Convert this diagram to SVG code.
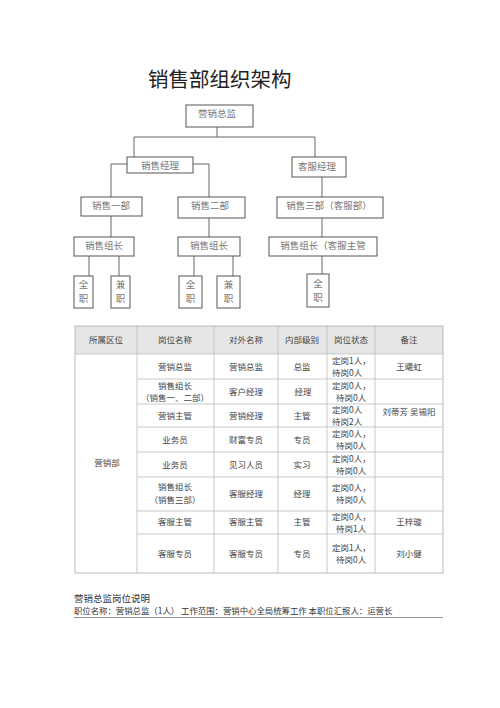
<svg xmlns="http://www.w3.org/2000/svg" width="500" height="708" viewBox="0 0 500 708">
<style>
.bg{fill:#fff}
.box{fill:#fff;stroke:#555;stroke-width:1}
.lbl{font-family:"Noto Sans CJK SC","Noto Sans",sans-serif;font-size:9.5px;fill:#777;text-anchor:middle}
.con{fill:none;stroke:#666;stroke-width:1}
.title{font-family:"Noto Sans CJK SC","Noto Sans",sans-serif;font-size:20.5px;fill:#222}
.grid{stroke:#bbb;stroke-width:0.8;fill:none}
.hdr{fill:#e6e6e6}
.t{font-family:"Noto Sans CJK SC","Noto Sans",sans-serif;font-size:8.5px;fill:#444;text-anchor:middle}
.tl{font-family:"Noto Sans CJK SC","Noto Sans",sans-serif;font-size:8.5px;fill:#444}
.foot{font-family:"Noto Sans CJK SC","Noto Sans",sans-serif;fill:#333}
</style>
<rect class="bg" x="0" y="0" width="500" height="708"/>
<text class="title" x="148" y="87">销售部组织架构</text>

<g id="connectors">
<path class="con" d="M217,127 V137 M134,137 H315 M134,137 V157 M315,137 V157"/>
<path class="con" d="M127,164 H111 V197 M193,164 H209 V197 M322,177 V197"/>
<path class="con" d="M111,216 V237 M209,218 V237 M322,218 V237"/>
<path class="con" d="M89,256 V276 M119,256 V276 M194,256 V276 M233,256 V276 M322,256 V274"/>
</g>

<g id="n-zongjian"><rect class="box" x="186" y="105" width="67" height="22"/><text class="lbl" x="217" y="117">营销总监</text></g>
<g id="n-xsjl"><rect class="box" x="127" y="157" width="66" height="16"/><text class="lbl" x="160" y="168.5">销售经理</text></g>
<g id="n-kfjl"><rect class="box" x="292" y="157" width="54" height="20"/><text class="lbl" x="317" y="169.5">客服经理</text></g>
<g id="n-b1"><rect class="box" x="81" y="197" width="61" height="19"/><text class="lbl" x="111" y="209">销售一部</text></g>
<g id="n-b2"><rect class="box" x="178" y="197" width="67" height="21"/><text class="lbl" x="210" y="209">销售二部</text></g>
<g id="n-b3"><rect class="box" x="277" y="197" width="106" height="21"/><text class="lbl" x="329" y="209">销售三部（客服部）</text></g>
<g id="n-zz1"><rect class="box" x="74" y="237" width="60" height="19"/><text class="lbl" x="104" y="249">销售组长</text></g>
<g id="n-zz2"><rect class="box" x="178" y="237" width="62" height="19"/><text class="lbl" x="209" y="249">销售组长</text></g>
<g id="n-zz3"><rect class="box" x="269" y="237" width="108" height="19"/><text class="lbl" x="323" y="249">销售组长（客服主管</text></g>
<g id="n-qz1"><rect class="box" x="74" y="276" width="19" height="32"/><text class="lbl" x="83.5" y="288">全</text><text class="lbl" x="83.5" y="302">职</text></g>
<g id="n-jz1"><rect class="box" x="111" y="276" width="19" height="32"/><text class="lbl" x="120.5" y="288">兼</text><text class="lbl" x="120.5" y="302">职</text></g>
<g id="n-qz2"><rect class="box" x="179" y="276" width="23" height="32"/><text class="lbl" x="190.5" y="288">全</text><text class="lbl" x="190.5" y="302">职</text></g>
<g id="n-jz2"><rect class="box" x="217" y="276" width="23" height="32"/><text class="lbl" x="228.5" y="288">兼</text><text class="lbl" x="228.5" y="302">职</text></g>
<g id="n-qz3"><rect class="box" x="307" y="274" width="22" height="33"/><text class="lbl" x="318" y="287">全</text><text class="lbl" x="318" y="301">职</text></g>

<g id="table">
<rect class="hdr" x="75" y="326" width="368" height="28"/>
<rect class="grid" x="75" y="326" width="368" height="247" style="stroke:#aaa"/>
<path class="grid" d="M75,354 H443 M137,326 V573 M214,326 V573 M278,326 V573 M327,326 V573 M375,326 V573 M137,379 H443 M137,404 H443 M137,427 H443 M137,452 H443 M137,477 H443 M137,511 H443 M137,534 H443"/>
<g>
<text class="t" x="106" y="343">所属区位</text>
<text class="t" x="175" y="343">岗位名称</text>
<text class="t" x="246" y="343">对外名称</text>
<text class="t" x="302" y="343">内部级别</text>
<text class="t" x="351" y="343">岗位状态</text>
<text class="t" x="409" y="343">备注</text>
</g>
<text class="t" x="107" y="466">营销部</text>
<g>
<text class="t" x="175" y="370">营销总监</text><text class="t" x="246" y="370">营销总监</text><text class="t" x="302" y="370">总监</text>
<text class="tl" x="332" y="364">定岗1人，</text><text class="tl" x="332" y="376">待岗0人</text><text class="t" x="409" y="370">王曦虹</text>
</g>
<g>
<text class="t" x="175" y="389">销售组长</text><text class="t" x="175" y="401">（销售一、二部）</text>
<text class="t" x="246" y="395">客户经理</text><text class="t" x="303" y="395">经理</text>
<text class="tl" x="332" y="389">定岗0人，</text><text class="tl" x="336" y="401">待岗0人</text>
</g>
<g>
<text class="t" x="175" y="419">营销主管</text><text class="t" x="246" y="419">营销经理</text><text class="t" x="302" y="419">主管</text>
<text class="tl" x="332" y="413">定岗0人</text><text class="tl" x="332" y="425">待岗2人</text><text class="t" x="409" y="415">刘蒂芳  吴锡阳</text>
</g>
<g>
<text class="t" x="175" y="443">业务员</text><text class="t" x="246" y="443">财富专员</text><text class="t" x="302" y="443">专员</text>
<text class="tl" x="332" y="437">定岗0人，</text><text class="tl" x="336" y="449">待岗0人</text>
</g>
<g>
<text class="t" x="175" y="468">业务员</text><text class="t" x="246" y="468">见习人员</text><text class="t" x="302" y="468">实习</text>
<text class="tl" x="332" y="462">定岗0人，</text><text class="tl" x="336" y="474">待岗0人</text>
</g>
<g>
<text class="t" x="175" y="490">销售组长</text><text class="t" x="175" y="503">（销售三部）</text>
<text class="t" x="246" y="497">客服经理</text><text class="t" x="302" y="497">经理</text>
<text class="tl" x="332" y="491">定岗0人，</text><text class="tl" x="336" y="503">待岗0人</text>
</g>
<g>
<text class="t" x="175" y="525">客服主管</text><text class="t" x="246" y="525">客服主管</text><text class="t" x="302" y="525">主管</text>
<text class="tl" x="332" y="520">定岗0人，</text><text class="tl" x="336" y="532">待岗1人</text><text class="t" x="409" y="525">王梓璇</text>
</g>
<g>
<text class="t" x="175" y="557">客服专员</text><text class="t" x="246" y="557">客服专员</text><text class="t" x="302" y="557">专员</text>
<text class="tl" x="332" y="551">定岗1人，</text><text class="tl" x="336" y="563">待岗0人</text><text class="t" x="409" y="557">刘小健</text>
</g>
</g>

<text class="foot" x="74" y="602" font-size="9.5">营销总监岗位说明</text>
<text class="foot" x="74" y="614" font-size="8.4">职位名称：营销总监（1人） 工作范围：营销中心全局统筹工作 本职位汇报人：运营长</text>
<line x1="74" y1="617.5" x2="443" y2="617.5" stroke="#777" stroke-width="0.8"/>
</svg>
